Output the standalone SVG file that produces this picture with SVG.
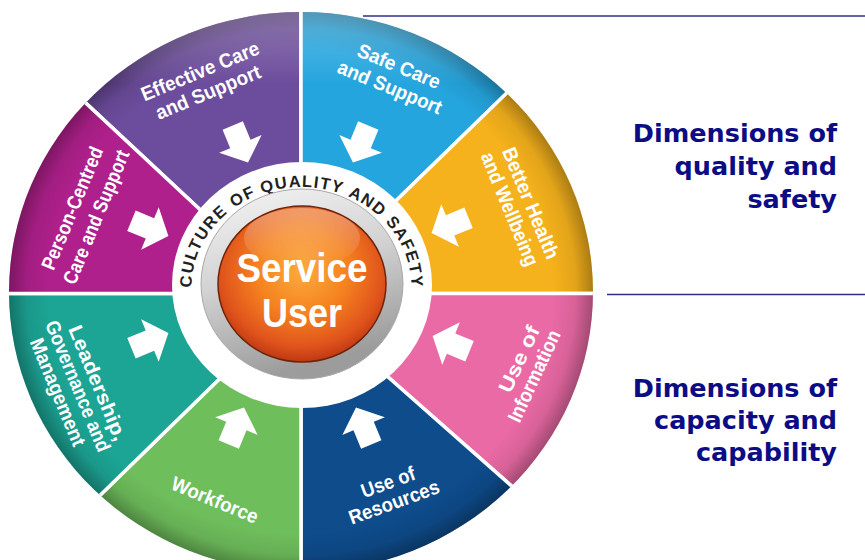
<svg xmlns="http://www.w3.org/2000/svg" xmlns:xlink="http://www.w3.org/1999/xlink" width="865" height="560" viewBox="0 0 865 560">
<style>
.lbl{font-family:"Liberation Sans Narrow","Liberation Sans",Arial,sans-serif;font-weight:bold;font-size:20px;fill:#fff;text-anchor:middle}
.rim{fill:url(#rimGrad);stroke:#fff;stroke-width:3.5;stroke-linejoin:round}
.ring{font-family:"Liberation Sans",Arial,sans-serif;font-weight:bold;font-size:16.5px;fill:#231f20;letter-spacing:1.3px}
.su{font-family:"Liberation Sans",Arial,sans-serif;font-weight:bold;font-size:40px;fill:#fff;text-anchor:middle}
.dim{font-family:"DejaVu Sans",Verdana,sans-serif;font-weight:bold;font-size:25.5px;fill:#0c0c84;text-anchor:end}
.rule{stroke:#2e2e86;stroke-width:1.5}
</style>
<defs>
<clipPath id="wheelClip"><ellipse cx="301" cy="292" rx="292" ry="280"/></clipPath>
<radialGradient id="rimGrad" gradientUnits="userSpaceOnUse" cx="301" cy="292" r="280" gradientTransform="translate(301 292) scale(1.043 1) translate(-301 -292)">
<stop offset="0" stop-color="#000" stop-opacity="0"/>
<stop offset="0.86" stop-color="#000" stop-opacity="0"/>
<stop offset="0.94" stop-color="#000" stop-opacity="0.08"/>
<stop offset="1" stop-color="#000" stop-opacity="0.3"/>
</radialGradient>
<linearGradient id="topHi" x1="0" y1="0" x2="0" y2="1">
<stop offset="0" stop-color="#fff" stop-opacity="0.3"/>
<stop offset="0.15" stop-color="#fff" stop-opacity="0"/>
</linearGradient>
<radialGradient id="ballGrad" cx="50%" cy="42%" r="60%">
<stop offset="0" stop-color="#fbab3c"/>
<stop offset="0.45" stop-color="#f5821f"/>
<stop offset="0.8" stop-color="#e0541c"/>
<stop offset="1" stop-color="#b83212"/>
</radialGradient>
<linearGradient id="glossGrad" x1="0" y1="0" x2="0" y2="1">
<stop offset="0" stop-color="#fff" stop-opacity="0.35"/>
<stop offset="1" stop-color="#fff" stop-opacity="0"/>
</linearGradient>
<linearGradient id="greyRing" x1="0" y1="0" x2="0.3" y2="1">
<stop offset="0" stop-color="#f6f6f6"/>
<stop offset="0.5" stop-color="#d2d2d2"/>
<stop offset="1" stop-color="#9c9c9c"/>
</linearGradient>
<path id="arrow" d="M0,-21 L23,-1 L11,-1 L11,19 L-11,19 L-11,-1 L-23,-1 Z" fill="#fff"/>
<path id="s-purple" d="M224,232 L-105,-75 L301,-200 L301,230 Z"/>
<path id="s-blue" d="M301,230 L301,-200 L694,-89 L371,225 Z"/>
<path id="s-yellow" d="M371,225 L694,-89 L900,293.5 L360,293.5 Z"/>
<path id="s-pink" d="M360,293.5 L900,293.5 L695,648 L358,350.5 Z"/>
<path id="s-darkblue" d="M358,350.5 L695,648 L301,800 L301,350 Z"/>
<path id="s-green" d="M301,350 L301,800 L-75,666 L247,352 Z"/>
<path id="s-teal" d="M247,352 L-75,666 L-200,293.5 L240,293.5 Z"/>
<path id="s-magenta" d="M240,293.5 L-200,293.5 L-105,-75 L224,232 Z"/>
<path id="ringPath" d="M191.5,310 L191.5,287 A110,100 0 0 1 301.5,187 A110,100 0 0 1 411.5,287 L411.5,310"/>
</defs>

<g id="wheel" clip-path="url(#wheelClip)">
<g id="seg-effective">
<use xlink:href="#s-purple" fill="#6c4c9c"/><use xlink:href="#s-purple" class="rim"/>
</g>
<g id="seg-safe">
<use xlink:href="#s-blue" fill="#25a5de"/><use xlink:href="#s-blue" class="rim"/>
</g>
<g id="seg-health">
<use xlink:href="#s-yellow" fill="#f6b21c"/><use xlink:href="#s-yellow" class="rim"/>
</g>
<g id="seg-information">
<use xlink:href="#s-pink" fill="#ea6aa5"/><use xlink:href="#s-pink" class="rim"/>
</g>
<g id="seg-resources">
<use xlink:href="#s-darkblue" fill="#0e4c8c"/><use xlink:href="#s-darkblue" class="rim"/>
</g>
<g id="seg-workforce">
<use xlink:href="#s-green" fill="#6fbe5c"/><use xlink:href="#s-green" class="rim"/>
</g>
<g id="seg-leadership">
<use xlink:href="#s-teal" fill="#1ca595"/><use xlink:href="#s-teal" class="rim"/>
</g>
<g id="seg-person">
<use xlink:href="#s-magenta" fill="#b0208c"/><use xlink:href="#s-magenta" class="rim"/>
</g>
<rect x="0" y="0" width="865" height="560" fill="url(#topHi)"/>
</g>

<g id="labels">
<g id="lbl-effective">
<g transform="translate(200,71) rotate(-22.5)"><text class="lbl" y="7" textLength="126" lengthAdjust="spacingAndGlyphs">Effective Care</text></g>
<g transform="translate(208,92) rotate(-22.5)"><text class="lbl" y="7" textLength="112" lengthAdjust="spacingAndGlyphs">and Support</text></g>
<use xlink:href="#arrow" transform="translate(240,143) rotate(157.5)"/>
</g>
<g id="lbl-safe">
<g transform="translate(399,66) rotate(22.5)"><text class="lbl" y="7" textLength="88" lengthAdjust="spacingAndGlyphs">Safe Care</text></g>
<g transform="translate(390,87) rotate(22.5)"><text class="lbl" y="7" textLength="111" lengthAdjust="spacingAndGlyphs">and Support</text></g>
<use xlink:href="#arrow" transform="translate(361,143) rotate(-157.5)"/>
</g>
<g id="lbl-health">
<g transform="translate(531,203) rotate(67.5)"><text class="lbl" y="7" textLength="119" lengthAdjust="spacingAndGlyphs">Better Health</text></g>
<g transform="translate(510,209) rotate(67.5)"><text class="lbl" y="7" textLength="121" lengthAdjust="spacingAndGlyphs">and Wellbeing</text></g>
<use xlink:href="#arrow" transform="translate(451,225) rotate(-112.5)"/>
</g>
<g id="lbl-information">
<g transform="translate(519,359) rotate(-65)"><text class="lbl" y="7" textLength="71" lengthAdjust="spacingAndGlyphs">Use of</text></g>
<g transform="translate(534,376) rotate(-65)"><text class="lbl" y="7" textLength="99" lengthAdjust="spacingAndGlyphs">Information</text></g>
<use xlink:href="#arrow" transform="translate(452,344) rotate(-67.5)"/>
</g>
<g id="lbl-resources">
<g transform="translate(388,482) rotate(-20)"><text class="lbl" y="7" textLength="56" lengthAdjust="spacingAndGlyphs">Use of</text></g>
<g transform="translate(394,502) rotate(-20)"><text class="lbl" y="7" textLength="95" lengthAdjust="spacingAndGlyphs">Resources</text></g>
<use xlink:href="#arrow" transform="translate(364,427) rotate(-22.5)"/>
</g>
<g id="lbl-workforce">
<g transform="translate(215,500) rotate(22.5)"><text class="lbl" y="7" textLength="92" lengthAdjust="spacingAndGlyphs">Workforce</text></g>
<use xlink:href="#arrow" transform="translate(236,427) rotate(22.5)"/>
</g>
<g id="lbl-leadership">
<g transform="translate(98,383) rotate(67.5)"><text class="lbl" y="7" textLength="123" lengthAdjust="spacingAndGlyphs">Leadership,</text></g>
<g transform="translate(78,386) rotate(67.5)"><text class="lbl" y="7" textLength="140" lengthAdjust="spacingAndGlyphs">Governance and</text></g>
<g transform="translate(58,392) rotate(67.5)"><text class="lbl" y="7" textLength="115" lengthAdjust="spacingAndGlyphs">Management</text></g>
<use xlink:href="#arrow" transform="translate(149,341) rotate(67.5)"/>
</g>
<g id="lbl-person">
<g transform="translate(72,208) rotate(-67.5)"><text class="lbl" y="7" textLength="131" lengthAdjust="spacingAndGlyphs">Person-Centred</text></g>
<g transform="translate(96,217) rotate(-67.5)"><text class="lbl" y="7" textLength="143" lengthAdjust="spacingAndGlyphs">Care and Support</text></g>
<use xlink:href="#arrow" transform="translate(149,228) rotate(112.5)"/>
</g>
</g>

<g id="hub">
<ellipse cx="302" cy="285" rx="130" ry="123" fill="#fff"/>
<g id="culture-ring">
<text class="ring"><textPath xlink:href="#ringPath" startOffset="22.5">CULTURE</textPath></text>
<text class="ring"><textPath xlink:href="#ringPath" startOffset="116.3">OF</textPath></text>
<text class="ring"><textPath xlink:href="#ringPath" startOffset="147.7">QUALITY</textPath></text>
<text class="ring"><textPath xlink:href="#ringPath" startOffset="235.1">AND</textPath></text>
<text class="ring"><textPath xlink:href="#ringPath" startOffset="280.7">SAFETY</textPath></text>
</g>
<ellipse cx="302" cy="284" rx="101" ry="95" fill="url(#greyRing)" stroke="#a8a8a8" stroke-width="1"/>
<ellipse cx="302" cy="284" rx="84" ry="78" fill="url(#ballGrad)" stroke="#6e2408" stroke-width="1.5"/>
<ellipse cx="302" cy="238" rx="58" ry="30" fill="url(#glossGrad)"/>
<text class="su" x="302" y="282" textLength="131" lengthAdjust="spacingAndGlyphs">Service</text>
<text class="su" x="302" y="327" textLength="80" lengthAdjust="spacingAndGlyphs">User</text>
</g>

<g id="rules">
<line class="rule" x1="363" y1="16" x2="865" y2="16"/>
<line class="rule" x1="607" y1="294.5" x2="865" y2="294.5"/>
</g>

<g id="quality-safety">
<text class="dim" x="837" y="142">Dimensions of</text>
<text class="dim" x="837" y="175">quality and</text>
<text class="dim" x="837" y="208">safety</text>
</g>
<g id="capacity-capability">
<text class="dim" x="837" y="397">Dimensions of</text>
<text class="dim" x="837" y="429">capacity and</text>
<text class="dim" x="837" y="461">capability</text>
</g>
</svg>
